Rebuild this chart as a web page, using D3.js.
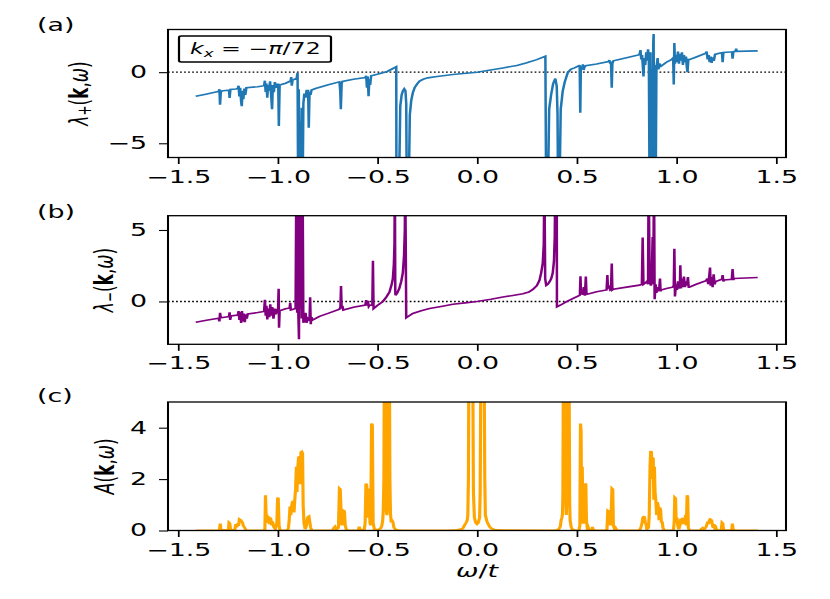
<!DOCTYPE html>
<html>
<head>
<meta charset="utf-8">
<script src="https://cdn.jsdelivr.net/npm/d3@7"></script>
<style>
  html, body { margin: 0; padding: 0; background: #fff; }
  svg { display: block; font-family: "DejaVu Sans"; }
</style>
</head>
<body>
<script>
// ticks
const xTicks = [-1.5, -1.0, -0.5, 0.0, 0.5, 1.0, 1.5];
const yTicksA = [-5, 0];
const yTicksB = [0, 5];
const yTicksC = [0, 2, 4];

// lambda_+(k, w)  [omega/t, value]
const lamPlus = [
  [-1.411,-1.70],[-1.36,-1.55],[-1.31,-1.40],
  [-1.296,-1.36],[-1.292,-1.20],[-1.289,-2.29],[-1.285,-1.40],[-1.281,-1.32],
  [-1.25,-1.27],[-1.244,-1.26],[-1.241,-1.82],[-1.237,-1.22],
  [-1.21,-1.18],[-1.200,-1.15],[-1.196,-0.95],[-1.192,-1.70],[-1.188,-1.10],[-1.183,-2.10],
  [-1.180,-2.40],[-1.176,-1.30],[-1.172,-1.90],[-1.167,-1.15],[-1.162,-1.60],[-1.157,-1.10],
  [-1.10,-1.02],
  [-1.068,-0.95],[-1.064,-0.60],[-1.060,-1.40],[-1.056,-0.80],[-1.052,-1.80],[-1.048,-0.90],
  [-1.043,-1.30],[-1.038,-0.65],[-1.033,-1.50],[-1.028,-2.60],[-1.024,-0.90],[-1.019,-1.40],
  [-1.014,-0.70],[-1.009,-1.10],[-1.004,-0.85],
  [-0.997,-0.85],[-0.994,-3.78],[-0.990,-0.90],
  [-0.96,-0.78],[-0.935,-0.62],[-0.932,-0.35],[-0.929,-0.95],[-0.925,-0.55],
  [-0.905,-0.45],[-0.900,-0.05],[-0.897,-9],[-0.894,-1.2],[-0.890,-9],[-0.886,-3.5],[-0.883,-9],
  [-0.879,-2.5],[-0.875,-9],[-0.871,-2.2],[-0.866,-1.5],[-0.860,-1.8],[-0.855,-1.3],
  [-0.847,-1.3],[-0.844,-3.9],[-0.840,-1.4],[-0.835,-1.6],[-0.830,-1.25],
  [-0.81,-1.15],[-0.75,-0.90],
  [-0.69,-0.68],[-0.686,-1.3],[-0.683,-2.6],[-0.679,-0.8],[-0.675,-0.65],
  [-0.62,-0.50],
  [-0.56,-0.38],[-0.556,-0.25],[-0.552,-1.1],[-0.548,-0.3],[-0.544,-1.7],[-0.540,-0.5],
  [-0.536,-0.9],[-0.531,-0.25],
  [-0.50,-0.15],[-0.45,0.05],[-0.405,0.38],[-0.404,-9],
  [-0.392,-9],[-0.385,-2.4],[-0.378,-1.6],[-0.372,-1.33],[-0.365,-1.17],[-0.359,-1.3],
  [-0.355,-2.2],[-0.352,-9],
  [-0.343,-9],[-0.337,-3.0],[-0.33,-2.0],[-0.322,-1.45],[-0.313,-1.1],[-0.30,-0.82],
  [-0.288,-0.63],[-0.27,-0.5],[-0.247,-0.4],[-0.20,-0.3],[-0.121,-0.17],[0,0],
  [0.13,0.3],[0.2,0.47],[0.246,0.65],[0.3,0.88],[0.343,1.12],[0.347,-9],
  [0.355,-9],[0.362,-2.6],[0.372,-1.57],[0.382,-0.8],[0.393,-0.45],[0.400,-1.0],
  [0.404,-3],[0.407,-9],
  [0.413,-9],[0.420,-2.6],[0.43,-1.33],[0.44,-0.7],[0.455,-0.05],[0.47,0.2],[0.489,0.3],
  [0.512,0.45],[0.515,0.5],[0.518,-2.85],[0.521,0.4],[0.527,0.2],[0.531,0.55],[0.535,0.15],
  [0.539,0.35],[0.545,0.45],
  [0.60,0.57],
  [0.66,0.75],[0.664,0.85],[0.668,0.6],[0.672,0.75],[0.676,-1.1],[0.679,0.6],[0.684,0.8],
  [0.75,1.02],
  [0.815,1.23],[0.82,1.55],[0.824,0.9],[0.828,1.2],[0.832,0.4],[0.835,-0.3],[0.839,1.0],
  [0.844,0.5],[0.849,1.4],[0.853,0.8],[0.858,1.6],[0.862,1.0],
  [0.866,-9],[0.870,1.4],[0.873,-9],[0.877,0.2],[0.880,-9],[0.884,2.0],[0.886,2.68],
  [0.889,-9],[0.893,0.5],[0.896,-9],[0.900,0.3],
  [0.906,1.0],[0.910,0.2],[0.915,0.6],[0.923,0.42],
  [0.95,0.7],
  [0.975,0.88],[0.984,1.0],[0.987,-0.87],[0.990,2.05],[0.993,0.6],[0.998,1.2],[1.003,0.7],
  [1.008,1.45],[1.013,0.6],[1.018,1.3],[1.023,0.8],[1.028,1.4],[1.033,0.5],[1.038,1.2],
  [1.043,0.7],[1.048,1.1],[1.053,0.3],[1.056,0.0],[1.06,0.9],
  [1.065,0.88],[1.10,1.07],
  [1.148,1.33],[1.152,1.45],[1.157,0.9],[1.162,1.2],[1.167,0.7],[1.172,1.1],[1.177,0.65],
  [1.182,1.05],[1.188,0.8],[1.194,1.25],
  [1.22,1.34],[1.229,1.36],[1.232,0.7],[1.236,1.38],
  [1.27,1.42],[1.279,1.42],[1.282,0.95],[1.286,1.44],[1.297,1.46],[1.300,1.65],[1.303,1.46],
  [1.408,1.50]
];

// lambda_-(k, w)
const lamMinus = [
  [-1.411,-1.45],[-1.35,-1.30],
  [-1.296,-1.18],[-1.292,-1.40],[-1.289,-0.80],[-1.285,-1.15],
  [-1.25,-1.08],[-1.244,-1.05],[-1.241,-0.76],[-1.238,-1.30],[-1.234,-1.02],
  [-1.20,-0.95],[-1.196,-0.68],[-1.192,-1.30],[-1.188,-0.75],[-1.183,-1.50],[-1.179,-0.67],
  [-1.175,-1.40],[-1.170,-0.85],[-1.165,-1.45],[-1.160,-0.90],[-1.155,-1.20],[-1.150,-0.88],
  [-1.10,-0.78],
  [-1.068,-0.70],[-1.064,0.12],[-1.060,-1.00],[-1.056,-0.30],[-1.052,-1.26],[-1.047,-0.50],
  [-1.042,-1.10],[-1.037,-0.20],[-1.032,-1.00],[-1.027,-0.40],[-1.021,-1.20],[-1.015,-0.50],
  [-1.009,-0.90],[-1.003,-0.60],
  [-0.998,-0.62],[-0.995,0.88],[-0.993,-1.84],[-0.990,-0.65],
  [-0.96,-0.52],[-0.94,-0.46],[-0.937,-0.10],[-0.934,-0.60],
  [-0.91,-0.50],[-0.906,9],[-0.902,-0.8],[-0.899,9],[-0.896,-1.0],[-0.893,-2.65],[-0.890,9],
  [-0.886,-0.5],[-0.883,9],[-0.879,-1.2],[-0.875,9],[-0.871,-1.5],
  [-0.865,-1.3],[-0.860,-0.8],[-0.855,-1.5],[-0.848,-1.2],
  [-0.840,-1.3],[-0.837,0.3],[-0.834,-1.6],[-0.830,-1.1],[-0.825,-1.3],
  [-0.79,-1.04],[-0.74,-0.80],
  [-0.69,-0.55],[-0.685,-0.4],[-0.682,1.08],[-0.679,-0.5],[-0.675,-0.3],[-0.671,-0.6],
  [-0.62,-0.40],
  [-0.56,-0.25],[-0.556,0.1],[-0.552,-0.3],[-0.548,0.05],[-0.543,-0.35],[-0.538,-0.25],
  [-0.525,-0.28],[-0.522,2.85],[-0.519,-0.5],
  [-0.50,-0.28],[-0.472,0.0],[-0.455,0.3],[-0.439,0.66],[-0.428,1.2],[-0.422,1.6],
  [-0.417,2.6],[-0.414,4.0],[-0.412,9],
  [-0.410,0.8],[-0.409,0.43],[-0.40,0.6],[-0.39,0.9],[-0.38,1.4],[-0.372,2.0],[-0.366,3.2],
  [-0.362,5.0],[-0.360,9],
  [-0.355,-1.14],[-0.34,-1.0],[-0.322,-0.84],[-0.28,-0.65],[-0.238,-0.5],[-0.18,-0.35],
  [-0.121,-0.2],[-0.06,-0.1],[0,0.0],[0.07,0.15],[0.13,0.31],[0.18,0.42],[0.23,0.54],
  [0.26,0.66],[0.28,0.84],[0.30,1.1],[0.313,1.46],[0.322,2.0],[0.33,2.7],[0.335,4.0],[0.338,9],
  [0.342,1.6],[0.347,1.12],[0.355,1.2],[0.365,1.4],[0.372,1.58],[0.38,2.0],[0.386,2.8],
  [0.39,4.5],[0.393,9],
  [0.40,9],[0.401,-0.38],
  [0.42,-0.25],[0.447,-0.03],[0.48,0.2],[0.514,0.43],
  [0.516,0.45],[0.519,1.76],[0.522,0.5],[0.527,0.8],[0.531,0.45],[0.536,1.0],[0.541,0.4],
  [0.546,1.75],[0.549,0.6],[0.553,0.5],
  [0.60,0.68],
  [0.65,0.8],[0.654,1.85],[0.657,0.9],[0.662,1.0],[0.668,0.8],[0.672,0.85],[0.676,2.65],
  [0.679,0.8],[0.684,0.85],
  [0.75,1.0],
  [0.815,1.14],[0.827,1.2],[0.831,4.48],[0.835,1.2],[0.845,1.3],[0.852,1.4],[0.858,1.2],
  [0.861,9],[0.866,1.6],[0.872,1.1],[0.876,1.3],[0.881,4.5],[0.884,1.2],[0.888,9],
  [0.891,0.16],[0.896,1.2],[0.900,0.6],[0.905,1.0],[0.910,0.7],[0.914,0.9],[0.918,1.6],
  [0.921,0.7],[0.923,0.8],
  [0.95,0.9],
  [0.981,1.0],[0.987,1.1],[0.990,3.69],[0.993,0.35],[0.998,1.2],[1.003,0.8],[1.008,1.4],
  [1.013,0.9],[1.018,1.3],[1.020,2.53],[1.023,0.9],[1.028,1.6],[1.033,1.0],[1.038,1.75],
  [1.043,1.0],[1.048,1.4],[1.053,1.1],[1.058,1.7],[1.062,1.0],
  [1.065,1.0],[1.10,1.2],
  [1.149,1.45],[1.155,1.6],[1.160,1.2],[1.165,1.8],[1.169,2.37],[1.172,1.1],[1.177,1.7],
  [1.182,1.0],[1.187,1.9],[1.192,1.2],[1.197,1.4],
  [1.229,1.55],[1.232,1.85],[1.236,1.4],[1.24,1.5],
  [1.278,1.55],[1.282,2.27],[1.286,1.5],[1.29,1.6],
  [1.408,1.67]
];

// spectral function A(k, w)
const specA = [
  [-1.41,0],[-1.30,0],[-1.292,0.02],[-1.288,0.27],[-1.284,0.02],
  [-1.247,0.02],[-1.244,0.31],[-1.240,0.28],[-1.236,0.02],
  [-1.215,0.02],[-1.210,0.25],[-1.205,0.12],[-1.200,0.28],[-1.196,0.18],[-1.192,0.44],
  [-1.188,0.42],[-1.184,0.40],[-1.180,0.35],[-1.176,0.30],[-1.172,0.18],[-1.166,0.12],
  [-1.160,0.03],[-1.15,0],
  [-1.07,0],[-1.064,0.05],[-1.061,1.37],[-1.057,0.4],[-1.054,0.62],[-1.050,0.3],[-1.046,0.55],
  [-1.042,0.25],[-1.038,0.5],[-1.034,0.45],[-1.030,0.2],[-1.026,0.35],[-1.020,0.15],
  [-1.012,0.05],[-1.004,0.3],[-1.000,1.28],[-0.997,1.25],[-0.993,0.2],[-0.988,0],
  [-0.950,0],[-0.946,0.1],[-0.942,0.4],[-0.938,0.93],[-0.934,0.6],[-0.930,0.95],[-0.926,1.1],
  [-0.922,1.15],[-0.918,0.7],[-0.914,1.2],[-0.910,1.6],[-0.906,2.48],[-0.903,1.5],
  [-0.899,2.45],[-0.895,2.84],[-0.891,2.86],[-0.887,1.8],[-0.883,3.05],[-0.879,3.07],
  [-0.875,3.0],[-0.872,1.0],[-0.868,0.3],[-0.862,0.05],[-0.855,0.2],[-0.851,0.48],
  [-0.847,0.53],[-0.843,0.55],[-0.839,0.35],[-0.834,0.1],[-0.828,0],
  [-0.725,0],[-0.718,0.1],[-0.712,0.15],[-0.705,0.05],[-0.695,0.1],[-0.690,1.63],[-0.686,1.6],
  [-0.682,0.8],[-0.678,0.2],[-0.673,0.4],[-0.669,0.77],[-0.665,0.75],[-0.661,0.2],
  [-0.655,0.02],[-0.645,0],
  [-0.60,0],[-0.595,0.02],[-0.591,0.15],[-0.587,0.03],[-0.57,0.03],
  [-0.565,0.05],[-0.561,0.3],[-0.557,1.83],[-0.553,1.75],[-0.549,0.5],[-0.545,1.6],
  [-0.541,1.58],[-0.537,0.3],[-0.533,0.2],[-0.529,4.16],[-0.525,4.1],[-0.521,0.3],
  [-0.515,0.05],[-0.50,0.02],[-0.49,0.05],[-0.482,0.1],[-0.477,0.2],[-0.473,0.4],
  [-0.470,0.8],[-0.467,2.0],[-0.465,6],[-0.461,6],[-0.458,2],[-0.455,0.8],[-0.452,0.6],
  [-0.449,0.9],[-0.446,2.5],[-0.444,6],[-0.439,6],[-0.437,2.0],[-0.434,0.66],[-0.431,0.38],
  [-0.427,0.4],[-0.422,0.34],[-0.417,0.12],[-0.41,0.05],[-0.40,0.02],[-0.38,0],
  [-0.15,0],[-0.10,0.02],[-0.08,0.05],[-0.071,0.08],[-0.063,0.2],[-0.055,0.3],[-0.049,0.4],
  [-0.046,0.6],[-0.043,2.0],[-0.041,6],[-0.021,6],[-0.018,1.5],[-0.013,0.5],[-0.006,0.3],
  [0.0,0.25],[0.006,0.3],[0.013,0.5],[0.016,1.5],[0.019,6],[0.036,6],[0.039,2.0],
  [0.042,0.6],[0.05,0.35],[0.056,0.25],[0.063,0.14],[0.072,0.08],[0.088,0.03],[0.12,0.01],
  [0.38,0],[0.40,0.02],[0.41,0.05],[0.418,0.15],[0.422,0.4],[0.426,0.5],[0.429,0.66],
  [0.431,1.5],[0.433,6],[0.443,6],[0.446,1.0],[0.448,0.6],[0.451,1.5],[0.453,6],[0.462,6],
  [0.465,1.0],[0.467,0.4],[0.472,0.15],[0.478,0.04],[0.49,0.01],
  [0.505,0],[0.512,0.03],[0.516,0.2],[0.519,4.16],[0.522,3.9],[0.525,0.5],[0.528,2.48],
  [0.531,0.3],[0.536,0.3],[0.54,0.5],[0.543,1.83],[0.546,1.8],[0.549,0.4],[0.553,0.1],
  [0.557,0.14],[0.561,0.02],[0.575,0.02],[0.579,0.14],[0.583,0.02],[0.60,0],
  [0.645,0],[0.652,0.05],[0.656,0.77],[0.660,0.75],[0.664,0.3],[0.668,0.2],[0.672,0.4],
  [0.677,1.63],[0.681,1.6],[0.684,0.2],[0.690,0.05],[0.695,0.1],[0.700,0.03],[0.71,0],
  [0.81,0],[0.818,0.05],[0.823,0.14],[0.828,0.3],[0.832,0.5],[0.836,0.53],[0.840,0.52],
  [0.844,0.3],[0.848,0.25],[0.852,0.05],[0.860,0.1],[0.864,0.6],[0.868,2.5],[0.871,3.09],
  [0.875,3.05],[0.878,2.0],[0.881,2.84],[0.884,2.8],[0.887,1.2],[0.890,2.48],[0.893,1.5],
  [0.897,1.18],[0.901,0.6],[0.905,1.1],[0.909,0.95],[0.913,0.4],[0.917,0.9],[0.921,0.8],
  [0.925,0.3],[0.929,0.35],[0.933,0.1],[0.94,0],
  [0.985,0],[0.989,0.3],[0.992,1.28],[0.996,1.25],[0.999,0.3],[1.003,0.5],[1.007,0.2],
  [1.012,0.05],[1.018,0.2],[1.022,0.45],[1.026,0.3],[1.030,0.49],[1.034,0.25],[1.038,0.4],
  [1.042,0.3],[1.046,0.6],[1.050,0.2],[1.054,1.37],[1.057,1.3],[1.060,0.1],[1.066,0],
  [1.12,0],[1.125,0.06],[1.132,0.1],[1.14,0.05],[1.148,0.12],[1.152,0.2],[1.157,0.34],
  [1.161,0.25],[1.165,0.38],[1.169,0.44],[1.173,0.43],[1.177,0.4],[1.181,0.2],[1.185,0.1],
  [1.189,0.25],[1.193,0.08],[1.198,0.12],[1.203,0.02],[1.225,0],[1.229,0.31],[1.233,0.28],
  [1.237,0.02],[1.278,0.01],[1.281,0.27],[1.285,0.02],[1.30,0],[1.41,0]
];

// the reference is stretched sideways, so draw narrow and let the viewBox widen it
const SX = 1.58;
const W = 830, H = 599;
const px = (v) => v / SX;

const svg = d3.select("body").append("svg")
  .attr("width", W)
  .attr("height", H)
  .attr("viewBox", `0 0 ${W / SX} ${H}`)
  .attr("preserveAspectRatio", "none");

const x = d3.scaleLinear().domain([-1.55, 1.55]).range([px(168), px(786)]);

const panels = [
  { tag: "(a)", tagY: 31, top: 29.5, bottom: 157.5, domain: [-6, 3], ticks: yTicksA,
    data: lamPlus, color: "#1f77b4", lw: 1.6, zero: true, labX: 78, sub: "+" },
  { tag: "(b)", tagY: 218, top: 215.7, bottom: 344.3, domain: [-3, 6], ticks: yTicksB,
    data: lamMinus, color: "purple", lw: 1.6, zero: true, labX: 103, sub: "\u2212" },
  { tag: "(c)", tagY: 402, top: 402, bottom: 530.5, domain: [0, 5], ticks: yTicksC,
    data: specA, color: "orange", lw: 2.0, zero: false, labX: 104, sub: null }
];

panels.forEach((p, i) => {
  const y = d3.scaleLinear().domain(p.domain).range([p.bottom, p.top]);
  const g = svg.append("g");

  const clipId = "clip" + i;
  svg.append("clipPath").attr("id", clipId)
    .append("rect")
    .attr("x", x.range()[0]).attr("y", p.top)
    .attr("width", x.range()[1] - x.range()[0]).attr("height", p.bottom - p.top);

  if (p.zero) {
    g.append("line")
      .attr("x1", x.range()[0]).attr("x2", x.range()[1])
      .attr("y1", y(0)).attr("y2", y(0))
      .attr("stroke", "#000").attr("stroke-width", 1.4)
      .attr("stroke-dasharray", "1.1,1.45");
  }

  const line = d3.line().x((d) => x(d[0])).y((d) => y(d[1]));
  g.append("path")
    .datum(p.data)
    .attr("clip-path", `url(#${clipId})`)
    .attr("fill", "none")
    .attr("stroke", p.color)
    .attr("stroke-width", p.lw)
    .attr("stroke-linejoin", "miter")
    .attr("d", line);

  // axes
  const xa = g.append("g")
    .attr("transform", `translate(0,${p.bottom})`)
    .call(d3.axisBottom(x).tickValues(xTicks).tickSize(6.5).tickPadding(6.5)
      .tickFormat(d3.format(".1f")));
  const ya = g.append("g")
    .attr("transform", `translate(${x.range()[0]},0)`)
    .call(d3.axisLeft(y).tickValues(p.ticks).tickSize(px(9)).tickPadding(px(12))
      .tickFormat(d3.format("d")));
  [xa, ya].forEach((a) => {
    a.select(".domain").remove();
    a.selectAll("line").attr("stroke", "#000").attr("stroke-width", 1.1);
    a.selectAll("text").attr("font-size", 17).attr("font-family", "DejaVu Sans")
      .attr("fill", "#000");
  });

  g.append("rect")
    .attr("x", x.range()[0]).attr("y", p.top)
    .attr("width", x.range()[1] - x.range()[0]).attr("height", p.bottom - p.top)
    .attr("fill", "none").attr("stroke", "#000").attr("stroke-width", 1.3);

  // panel tag
  g.append("text")
    .attr("x", px(37)).attr("y", p.tagY)
    .attr("font-size", 17)
    .text(p.tag);

  // y label
  const lab = g.append("text")
    .attr("transform", `translate(${px(p.labX)},${(p.top + p.bottom) / 2}) rotate(-90)`)
    .attr("text-anchor", "middle")
    .attr("dominant-baseline", "central")
    .attr("font-size", 17);
  if (p.sub) {
    lab.append("tspan").attr("font-style", "italic").text("\u03bb");
    lab.append("tspan").attr("font-size", 12).attr("dy", 4).text(p.sub);
    lab.append("tspan").attr("dy", -4).text("(");
  } else {
    lab.append("tspan").attr("font-style", "italic").text("A");
    lab.append("tspan").text("(");
  }
  lab.append("tspan").attr("font-weight", "bold").text("k");
  lab.append("tspan").text(",");
  lab.append("tspan").attr("font-style", "italic").text("\u03c9");
  lab.append("tspan").text(")");

  if (i === 0) {
    g.append("rect")
      .attr("x", px(179)).attr("y", 36)
      .attr("width", px(331 - 179)).attr("height", 26)
      .attr("rx", 1.5)
      .attr("fill", "#fff").attr("stroke", "#000").attr("stroke-width", 1.4);
    const lt = g.append("text")
      .attr("x", px(190)).attr("y", 54)
      .attr("font-size", 15);
    lt.append("tspan").attr("font-style", "italic").text("k");
    lt.append("tspan").attr("font-style", "italic").attr("font-size", 10.5).attr("dy", 3).text("x");
    lt.append("tspan").attr("dy", -3).text(" = \u2212");
    lt.append("tspan").attr("font-style", "italic").text("\u03c0");
    lt.append("tspan").text("/72");
  }
});

// x label
const xl = svg.append("text")
  .attr("x", px(477)).attr("y", 577)
  .attr("text-anchor", "middle")
  .attr("font-size", 17);
xl.append("tspan").attr("font-style", "italic").text("\u03c9");
xl.append("tspan").text("/");
xl.append("tspan").attr("font-style", "italic").text("t");
</script>
</body>
</html>
